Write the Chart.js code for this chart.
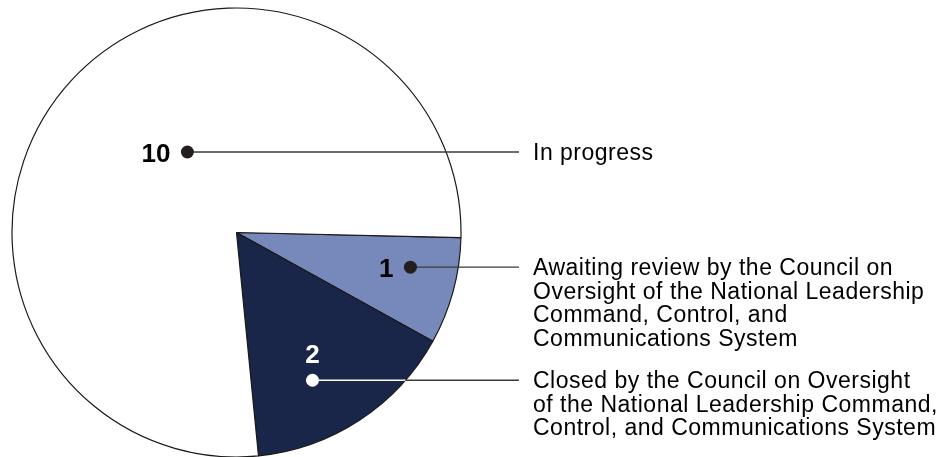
<!DOCTYPE html>
<html lang="en">

<head>
  <meta charset="UTF-8">
  <meta name="viewport" content="width=device-width, initial-scale=1.0">
  <script src="https://cdn.jsdelivr.net/npm/chart.js"></script>
  <title>Recommendation status</title>
  <style>
    body { margin: 0; background: #fff; overflow: hidden; }
    #box { position: relative; width: 951px; height: 457px; }
  </style>
</head>

<body>
  <div id="box"><canvas id="pizza"></canvas></div>
</body>

<script>
  // dados (ordem do desenho: sentido horario a partir da direita)
  const categorias = [
    ['Awaiting review by the Council on', 'Oversight of the National Leadership', 'Command, Control, and', 'Communications System'],
    ['Closed by the Council on Oversight', 'of the National Leadership Command,', 'Control, and Communications System'],
    ['In progress']
  ];
  const valores = [1, 2, 10];
  const cores = ['#7788ba', '#19264a', '#ffffff'];

  // onde fica o ponto dentro de cada fatia (fracao do angulo e do raio)
  const fracAngulo = [0.36, 0.61, 0.557];
  const fracRaio = [0.79, 0.74, 0.42];
  const corPonto = ['#231f20', '#ffffff', '#231f20'];
  const posNumero = ['left', 'above', 'left'];

  const rotulos = {
    id: 'rotulos',
    afterDatasetsDraw(chart) {
      const ctx = chart.ctx;
      const meta = chart.getDatasetMeta(0);
      const xFim = 519;
      const xTexto = 533;
      meta.data.forEach((arc, i) => {
        const p = arc.getProps(['x', 'y', 'startAngle', 'endAngle', 'outerRadius'], true);
        const a = p.startAngle + fracAngulo[i] * (p.endAngle - p.startAngle);
        const px = p.x + Math.cos(a) * fracRaio[i] * p.outerRadius;
        const py = p.y + Math.sin(a) * fracRaio[i] * p.outerRadius;
        const borda = p.x + Math.sqrt(p.outerRadius * p.outerRadius - (py - p.y) * (py - p.y));

        ctx.save();
        ctx.lineWidth = 1.4;
        // linha dentro da fatia
        ctx.strokeStyle = corPonto[i] == '#ffffff' ? '#ffffff' : '#3a3a3a';
        ctx.beginPath();
        ctx.moveTo(px, py);
        ctx.lineTo(borda, py);
        ctx.stroke();
        // linha fora da pizza
        ctx.strokeStyle = '#3a3a3a';
        ctx.beginPath();
        ctx.moveTo(borda, py);
        ctx.lineTo(xFim, py);
        ctx.stroke();

        // ponto
        ctx.fillStyle = corPonto[i];
        ctx.beginPath();
        ctx.arc(px, py, 6.5, 0, Math.PI * 2);
        ctx.fill();

        // numero
        ctx.font = 'bold 26px "Liberation Sans", Arial, sans-serif';
        ctx.fillStyle = corPonto[i] == '#ffffff' ? '#ffffff' : '#000000';
        ctx.textBaseline = 'alphabetic';
        if (posNumero[i] == 'left') {
          ctx.textAlign = 'right';
          ctx.fillText(String(valores[i]), px - 17, py + 10);
        } else {
          ctx.textAlign = 'center';
          ctx.fillText(String(valores[i]), px, py - 17);
        }

        // texto da categoria
        ctx.font = '23px "Liberation Sans", Arial, sans-serif';
        ctx.letterSpacing = '0.5px';
        ctx.fillStyle = '#000000';
        ctx.textAlign = 'left';
        categorias[i].forEach((linha, k) => {
          ctx.fillText(linha, xTexto, py + 8 + k * 23.5);
        });
        ctx.restore();
      });
    }
  };

  new Chart(document.getElementById('pizza'), {
    type: 'pie',
    data: {
      labels: categorias,
      datasets: [
        {
          data: valores,
          backgroundColor: cores,
          borderColor: '#1a1a1a',
          borderWidth: 1.2,
          hoverOffset: 0
        }]
    },
    options: {
      responsive: true,
      maintainAspectRatio: false,
      animation: false,
      events: [],
      rotation: 91.3,
      radius: 224.5,
      layout: {
        padding: { left: 12, top: 8, right: 490, bottom: 0 }
      },
      plugins: {
        legend: { display: false },
        tooltip: { enabled: false }
      }
    },
    plugins: [rotulos]
  });
</script>

</html>
